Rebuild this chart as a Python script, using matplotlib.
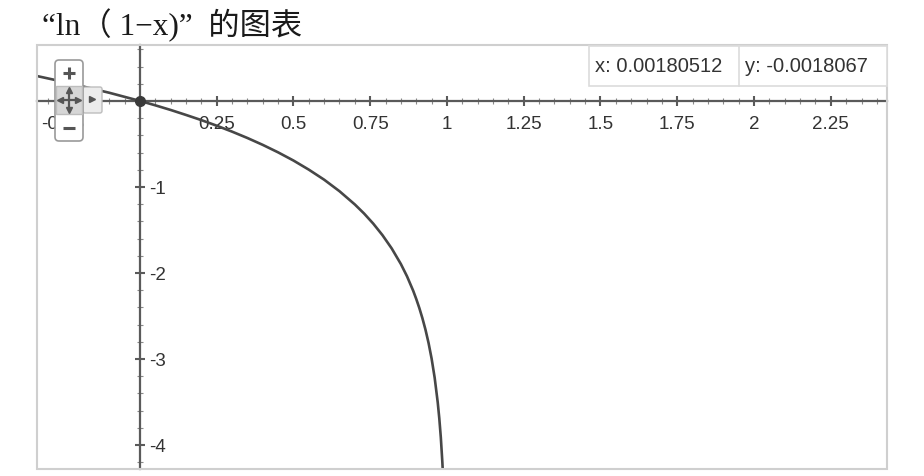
import numpy as np
import matplotlib
matplotlib.use("Agg")
import matplotlib.pyplot as plt
from matplotlib.patches import Rectangle, FancyBboxPatch
from matplotlib.ticker import MultipleLocator, FixedLocator

plt.rcParams['font.family'] = ['Liberation Sans', 'DejaVu Sans']

xs = [-0.34, -0.25, -0.1, 0.0, 0.05, 0.1, 0.15, 0.2, 0.25, 0.3, 0.35, 0.4, 0.45,
      0.5, 0.55, 0.6, 0.65, 0.7, 0.73, 0.76, 0.79, 0.82, 0.85, 0.87, 0.89, 0.9,
      0.91, 0.92, 0.93, 0.94, 0.95, 0.96, 0.97, 0.975, 0.98, 0.985, 0.987]
ys = [0.293, 0.223, 0.095, 0.0, -0.051, -0.105, -0.163, -0.223, -0.288, -0.357,
      -0.431, -0.511, -0.598, -0.693, -0.799, -0.916, -1.050, -1.204, -1.309,
      -1.427, -1.561, -1.715, -1.897, -2.040, -2.207, -2.303, -2.408, -2.526,
      -2.659, -2.813, -2.996, -3.219, -3.507, -3.689, -3.912, -4.200, -4.343]
hover_x = 0.00180512
hover_y = -0.0018067
x_ticks = [-0.25, 0.25, 0.5, 0.75, 1, 1.25, 1.5, 1.75, 2, 2.25]
x_labels = ['-0.25', '0.25', '0.5', '0.75', '1', '1.25', '1.5', '1.75', '2', '2.25']
y_ticks = [-1, -2, -3, -4]
y_labels = ['-1', '-2', '-3', '-4']
title = '“ln（ 1−x)”  的图表'

axis_col = '#5a5a5a'
curve_col = '#474747'

fig = plt.figure(figsize=(9.24, 4.77), dpi=100)
ax = fig.add_axes([37/924, 7/477, 850/924, 424/477])
ax.set_xlim(-0.335, 2.433)
ax.set_ylim(-4.28, 0.65)

for s in ['top', 'left']:
    ax.spines[s].set_visible(False)
ax.spines['right'].set_position(('data', 0))
ax.spines['bottom'].set_position(('data', 0))
for s in ['right', 'bottom']:
    ax.spines[s].set_color(axis_col)
    ax.spines[s].set_linewidth(1.6)
ax.yaxis.tick_right()

ax.xaxis.set_major_locator(FixedLocator(x_ticks))
ax.xaxis.set_minor_locator(MultipleLocator(0.05))
ax.set_xticklabels(x_labels)
ax.yaxis.set_major_locator(FixedLocator(y_ticks))
ax.yaxis.set_minor_locator(MultipleLocator(0.2))
ax.set_yticklabels(y_labels)
ax.tick_params(which='major', direction='inout', length=7, width=1.5,
               color=axis_col, labelsize=13.5, labelcolor='#333333')
ax.tick_params(which='minor', direction='inout', length=4.5, width=0.8,
               color='#8a8a8a')
ax.tick_params(axis='x', which='major', pad=7)
ax.tick_params(axis='y', which='major', pad=3)

ax.plot(xs, ys, color=curve_col, lw=1.9, zorder=3)
ax.plot([hover_x], [hover_y], 'o', color='#3a3a3a', ms=7, zorder=4)

ax.add_patch(Rectangle((0, 0), 1, 1, transform=ax.transAxes, fill=False,
                       edgecolor='#cfcfcf', lw=1.5, clip_on=False, zorder=5))

fig.text(42/924, 1 - 25/477, title, fontsize=22.5, va='center', ha='left',
         family=['Liberation Serif', 'Noto Sans CJK SC'], color='#1a1a1a')

# overlay in pixel coords for the hover box and the zoom control
ov = fig.add_axes([0, 0, 1, 1], zorder=10)
ov.set_xlim(0, 924)
ov.set_ylim(477, 0)
ov.axis('off')

ov.add_patch(Rectangle((589, 47), 298, 40, facecolor='white',
                       edgecolor='#dcdcdc', lw=1.2))
ov.plot([739, 739], [47, 87], color='#dcdcdc', lw=1.2)
ov.text(595, 67, 'x: %.8f' % hover_x, fontsize=14.5, va='center', color='#333333')
ov.text(745, 67, 'y: %.7f' % hover_y, fontsize=14.5, va='center', color='#333333')

# zoom / pan widget
ov.add_patch(FancyBboxPatch((83, 88), 19, 26, boxstyle='round,pad=0,rounding_size=2',
                            facecolor='#ececec', edgecolor='#bdbdbd', lw=1))
ov.plot([92], [100], marker='>', color='#555555', ms=4)
ov.add_patch(FancyBboxPatch((55, 61), 28, 81, boxstyle='round,pad=0,rounding_size=4',
                            facecolor='white', edgecolor='#9a9a9a', lw=1.2))
ov.add_patch(Rectangle((55.6, 87), 26.8, 28, facecolor='#d6d6d6', edgecolor='#bdbdbd', lw=1))
# plus and minus glyphs as strokes
ov.plot([63, 75], [74, 74], color='#555555', lw=2.2, solid_capstyle='butt')
ov.plot([69, 69], [68, 80], color='#555555', lw=2.2, solid_capstyle='butt')
ov.plot([63, 75], [129, 129], color='#555555', lw=2.2, solid_capstyle='butt')
cx, cy = 69, 101
ov.plot([cx - 8, cx + 8], [cy, cy], color='#555555', lw=1.6)
ov.plot([cx, cx], [cy - 9, cy + 9], color='#555555', lw=1.6)
ov.plot([cx - 9], [cy], marker='<', color='#555555', ms=5)
ov.plot([cx + 9], [cy], marker='>', color='#555555', ms=5)
ov.plot([cx], [cy - 10], marker='^', color='#555555', ms=5)
ov.plot([cx], [cy + 10], marker='v', color='#555555', ms=5)

fig.savefig('out.png', dpi=100)
